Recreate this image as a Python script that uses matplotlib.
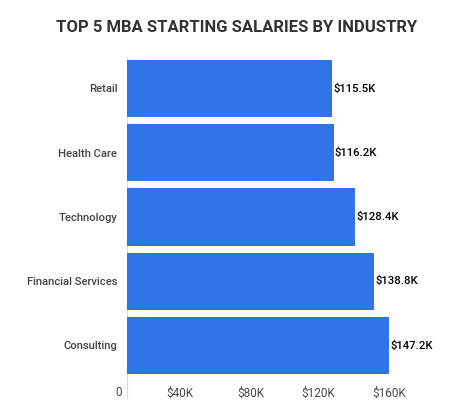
import matplotlib
matplotlib.use("Agg")
import matplotlib.pyplot as plt
import matplotlib.transforms as mtransforms

industries = ["Retail", "Health Care", "Technology", "Financial Services", "Consulting"]
salaries = [115.5, 116.2, 128.4, 138.8, 147.2]   # thousands of dollars
value_labels = ["$115.5K", "$116.2K", "$128.4K", "$138.8K", "$147.2K"]
tick_values = [0, 40, 80, 120, 160]
tick_labels = ["0", "$40K", "$80K", "$120K", "$160K"]

bar_color = "#3174e8"
W, H = 474, 408

plt.rcParams['font.family'] = ['Roboto', 'DejaVu Sans']

fig = plt.figure(figsize=(W / 100, H / 100), dpi=100)
# axes box in pixels: left 127, right 447, top 57, bottom 378
ax = fig.add_axes([127 / W, 1 - 378 / H, 320 / W, 321 / H])

pos = list(range(len(industries)))
ax.barh(pos, salaries, height=0.89, color=bar_color)
ax.set_xlim(0, 180)
ax.set_ylim(4.506, -0.49)

ax.set_yticks(pos, industries)
ax.tick_params(axis='y', length=0, pad=7, labelsize=8.1, labelcolor='#444444')
for lbl in ax.get_yticklabels():
    lbl.set_fontweight('medium')

ax.set_xticks(tick_values, tick_labels)
ax.tick_params(axis='x', length=0, pad=6, labelsize=8.5, labelcolor='#4a4a4a')
offset = mtransforms.ScaledTranslation(-5 / 100, 0, fig.dpi_scale_trans)
for lbl in ax.get_xticklabels():
    lbl.set_horizontalalignment('right')
    lbl.set_transform(lbl.get_transform() + offset)

for s in ax.spines.values():
    s.set_visible(False)

# zero line running down past the tick labels
ax.axvline(0, ymin=-0.0623, ymax=1, color='#d9d9d9', lw=0.8, clip_on=False, zorder=0)

for i, (v, t) in enumerate(zip(salaries, value_labels)):
    ax.annotate(t, (v, i), xytext=(1, 0), textcoords='offset points',
                ha='left', va='center', fontsize=8.2, fontweight='medium', color='#000000')

fig.text(0.5, 1 - 27 / H, "TOP 5 MBA STARTING SALARIES BY INDUSTRY",
         ha='center', va='center', fontsize=12, fontweight='bold', color='#333333')

fig.savefig("out.png", dpi=100)
